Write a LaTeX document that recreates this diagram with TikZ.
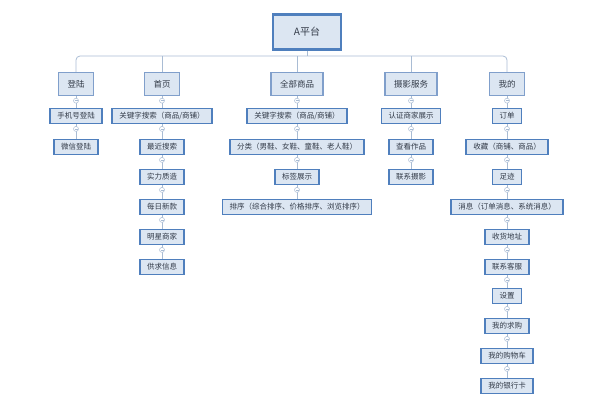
\documentclass[tikz,border=0pt]{standalone}
\usepackage{fontspec}
\setmainfont{Noto Sans CJK SC}
\usepackage{tikz}
\definecolor{boxline}{HTML}{4F7FBD}
\definecolor{toplines}{HTML}{809FCB}
\definecolor{boxfill}{HTML}{DCE6F2}
\definecolor{linkgray}{HTML}{A9BCD4}
\definecolor{textgray}{HTML}{333B48}

\begin{document}
\begin{tikzpicture}[x=1pt, y=-1pt,
    rootbox/.style={draw=boxline, fill=boxfill, line width=2.4pt, minimum width=68pt, minimum height=35pt, font=\fontsize{10}{12}\selectfont, text=textgray},
    topbox/.style={draw=toplines, fill=boxfill, line width=1.3pt, minimum height=23pt, inner xsep=9pt, font=\fontsize{8.5}{10}\selectfont, text=textgray},
    itembox/.style={draw=boxline, fill=boxfill, line width=1.8pt, minimum height=15pt, inner ysep=1pt, inner xsep=7pt, font=\fontsize{7.5}{9}\selectfont, text=textgray},
    link/.style={draw=linkgray, line width=0.8pt},
    fold/.style={circle, draw=linkgray, fill=white, line width=0.5pt, minimum size=5pt, inner sep=0pt,
        path picture={\draw[linkgray, line width=0.4pt] ([xshift=-1.5pt]path picture bounding box.center) -- ([xshift=1.5pt]path picture bounding box.center);}}]
    \useasboundingbox (0,0) rectangle (600,400);
    % root and first level
    \node[rootbox] (root) at (307,32) {A平台};
    \node[topbox] (denglu) at (76,84) {登陆};
    \node[topbox] (shouye) at (162,84) {首页};
    \node[topbox] (quanbu) at (297,84) {全部商品};
    \node[topbox] (sheying) at (411,84) {摄影服务};
    \node[topbox] (wode) at (507,84) {我的};
    \coordinate (bus) at (300,56);
    \draw[link] (root) -- (root |- bus);
    \draw[link, rounded corners=4pt] (denglu.north) |- (bus) -| (wode.north);
    \draw[link] (shouye.north) -- (shouye.north |- bus);
    \draw[link] (quanbu.north) -- (quanbu.north |- bus);
    \draw[link] (sheying.north) -- (sheying.north |- bus);
    % 登陆
    \node[itembox] (dl1) at (76,116) {手机号登陆};
    \node[itembox] (dl2) at (76,147) {微信登陆};
    % 首页
    \node[itembox] (sy1) at (162,116) {关键字搜索（商品/商铺）};
    \node[itembox] (sy2) at (162,147) {最近搜索};
    \node[itembox] (sy3) at (162,177) {实力质造};
    \node[itembox] (sy4) at (162,207) {每日新款};
    \node[itembox] (sy5) at (162,237) {明星商家};
    \node[itembox] (sy6) at (162,267) {供求信息};
    % 全部商品
    \node[itembox] (qb1) at (297,116) {关键字搜索（商品/商铺）};
    \node[itembox] (qb2) at (297,147) {分类（男鞋、女鞋、童鞋、老人鞋）};
    \node[itembox] (qb3) at (297,177) {标签展示};
    \node[itembox] (qb4) at (297,207) {排序（综合排序、价格排序、浏览排序）};
    % 摄影服务
    \node[itembox] (ss1) at (411,116) {认证商家展示};
    \node[itembox] (ss2) at (411,147) {查看作品};
    \node[itembox] (ss3) at (411,177) {联系摄影};
    % 我的
    \node[itembox] (wd1) at (507,116) {订单};
    \node[itembox] (wd2) at (507,147) {收藏（商铺、商品）};
    \node[itembox] (wd3) at (507,177) {足迹};
    \node[itembox] (wd4) at (507,207) {消息（订单消息、系统消息）};
    \node[itembox] (wd5) at (507,237) {收货地址};
    \node[itembox] (wd6) at (507,267) {联系客服};
    \node[itembox] (wd7) at (507,296) {设置};
    \node[itembox] (wd8) at (507,326) {我的求购};
    \node[itembox] (wd9) at (507,356) {我的购物车};
    \node[itembox] (wd10) at (507,386) {我的银行卡};
    % chains
    \draw[link] (denglu) -- (dl1) node[fold, at start, yshift=-4.5pt] {};
    \draw[link] (dl1) -- (dl2) node[fold, at start, yshift=-4.5pt] {};
    \draw[link] (shouye) -- (sy1) node[fold, at start, yshift=-4.5pt] {};
    \draw[link] (sy1) -- (sy2) node[fold, at start, yshift=-4.5pt] {};
    \draw[link] (sy2) -- (sy3) node[fold, at start, yshift=-4.5pt] {};
    \draw[link] (sy3) -- (sy4) node[fold, at start, yshift=-4.5pt] {};
    \draw[link] (sy4) -- (sy5) node[fold, at start, yshift=-4.5pt] {};
    \draw[link] (sy5) -- (sy6) node[fold, at start, yshift=-4.5pt] {};
    \draw[link] (quanbu) -- (qb1) node[fold, at start, yshift=-4.5pt] {};
    \draw[link] (qb1) -- (qb2) node[fold, at start, yshift=-4.5pt] {};
    \draw[link] (qb2) -- (qb3) node[fold, at start, yshift=-4.5pt] {};
    \draw[link] (qb3) -- (qb4) node[fold, at start, yshift=-4.5pt] {};
    \draw[link] (sheying) -- (ss1) node[fold, at start, yshift=-4.5pt] {};
    \draw[link] (ss1) -- (ss2) node[fold, at start, yshift=-4.5pt] {};
    \draw[link] (ss2) -- (ss3) node[fold, at start, yshift=-4.5pt] {};
    \draw[link] (wode) -- (wd1) node[fold, at start, yshift=-4.5pt] {};
    \draw[link] (wd1) -- (wd2) node[fold, at start, yshift=-4.5pt] {};
    \draw[link] (wd2) -- (wd3) node[fold, at start, yshift=-4.5pt] {};
    \draw[link] (wd3) -- (wd4) node[fold, at start, yshift=-4.5pt] {};
    \draw[link] (wd4) -- (wd5) node[fold, at start, yshift=-4.5pt] {};
    \draw[link] (wd5) -- (wd6) node[fold, at start, yshift=-4.5pt] {};
    \draw[link] (wd6) -- (wd7) node[fold, at start, yshift=-4.5pt] {};
    \draw[link] (wd7) -- (wd8) node[fold, at start, yshift=-4.5pt] {};
    \draw[link] (wd8) -- (wd9) node[fold, at start, yshift=-4.5pt] {};
    \draw[link] (wd9) -- (wd10) node[fold, at start, yshift=-4.5pt] {};
\end{tikzpicture}
\end{document}
